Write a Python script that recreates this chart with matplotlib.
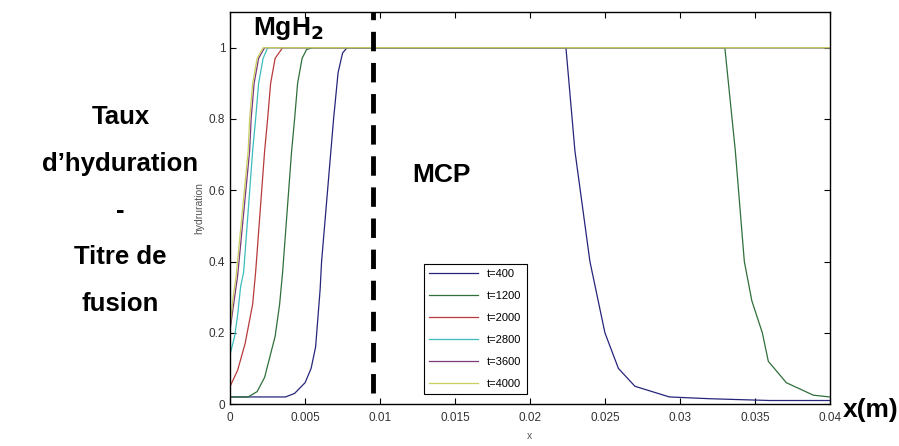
import matplotlib
matplotlib.use("Agg")
import matplotlib.pyplot as plt

plt.rcParams["font.family"] = ["Liberation Sans", "DejaVu Sans"]

# curves (x in m, hydration fraction)
x_400 = [0, 0.0037, 0.0043, 0.005, 0.0054, 0.0057, 0.006, 0.0061, 0.0065, 0.0069,
         0.0072, 0.0075, 0.0078, 0.0224, 0.023, 0.024, 0.025, 0.0259, 0.027, 0.0293,
         0.032, 0.036, 0.04]
y_400 = [0.02, 0.02, 0.03, 0.06, 0.1, 0.16, 0.32, 0.4, 0.6, 0.8,
         0.93, 0.985, 1.0, 1.0, 0.71, 0.4, 0.2, 0.1, 0.05, 0.02,
         0.015, 0.01, 0.01]

x_1200 = [0, 0.0012, 0.0018, 0.0023, 0.003, 0.0033, 0.0035, 0.0041, 0.0043, 0.0045,
          0.0048, 0.0051, 0.0055, 0.033, 0.0337, 0.0343, 0.0348, 0.0355, 0.0359,
          0.0371, 0.0389, 0.04]
y_1200 = [0.02, 0.02, 0.035, 0.075, 0.19, 0.28, 0.37, 0.71, 0.8, 0.9,
          0.97, 0.995, 1.0, 1.0, 0.71, 0.4, 0.29, 0.2, 0.12,
          0.06, 0.025, 0.02]

x_2000 = [0, 0.0005, 0.001, 0.0015, 0.0017, 0.0023, 0.0025, 0.0027, 0.003, 0.0035, 0.04]
y_2000 = [0.05, 0.095, 0.17, 0.28, 0.37, 0.71, 0.8, 0.9, 0.97, 1.0, 1.0]

x_2800 = [0, 0.0003, 0.0005, 0.0007, 0.0009, 0.0015, 0.0017, 0.0019, 0.0022, 0.0025, 0.04]
y_2800 = [0.14, 0.19, 0.25, 0.33, 0.37, 0.71, 0.8, 0.9, 0.97, 1.0, 1.0]

x_3600 = [0, 0.0003, 0.0005, 0.0013, 0.0014, 0.0016, 0.0019, 0.0023, 0.04]
y_3600 = [0.21, 0.3, 0.36, 0.71, 0.8, 0.9, 0.97, 1.0, 1.0]

x_4000 = [0, 0.0002, 0.0004, 0.0012, 0.0013, 0.0015, 0.0018, 0.0022, 0.04]
y_4000 = [0.22, 0.3, 0.36, 0.71, 0.8, 0.9, 0.97, 1.0, 1.0]

labels = ["t=400", "t=1200", "t=2000", "t=2800", "t=3600", "t=4000"]
colors = ["#25257a", "#2f6f3a", "#b83a3a", "#3cbcbc", "#7a3a7a", "#c8d060"]

interface_x = 0.0095

x_ticks = [0, 0.005, 0.01, 0.015, 0.02, 0.025, 0.03, 0.035, 0.04]
x_ticklabels = ["0", "0.005", "0.01", "0.015", "0.02", "0.025", "0.03", "0.035", "0.04"]
y_ticks = [0, 0.2, 0.4, 0.6, 0.8, 1.0]
y_ticklabels = ["0", "0.2", "0.4", "0.6", "0.8", "1"]

side_text = ["Taux", "d\u2019hyduration", "-", "Titre de", "fusion"]

fig = plt.figure(figsize=(8.99, 4.46), dpi=100)
ax = fig.add_axes([0.256, 0.094, 0.667, 0.879])

series = [(x_400, y_400), (x_1200, y_1200), (x_2000, y_2000),
          (x_2800, y_2800), (x_3600, y_3600), (x_4000, y_4000)]
for (xs, ys), lab, c in zip(series, labels, colors):
    ax.plot(xs, ys, color=c, lw=0.9, label=lab)

ax.plot([interface_x, interface_x], [0.03, 1.1], color="black", lw=3.5,
        linestyle=(0, (4, 2.4)), clip_on=False)

ax.set_xlim(0, 0.04)
ax.set_ylim(0, 1.1)
ax.set_xticks(x_ticks)
ax.set_xticklabels(x_ticklabels)
ax.set_yticks(y_ticks)
ax.set_yticklabels(y_ticklabels)
ax.tick_params(direction="in", top=True, right=True, labelsize=8.5,
               labelcolor="#333333", length=4, width=0.8)
ax.tick_params(axis="x", pad=6)
for s in ax.spines.values():
    s.set_linewidth(1.0)
ax.set_xlabel("x", fontsize=7.5, color="#555555", labelpad=5)
ax.set_ylabel("hydruration", fontsize=7.5, color="#555555", labelpad=3)

leg = ax.legend(loc="upper left", bbox_to_anchor=(0.466, 0.42),
                bbox_transform=fig.transFigure, fontsize=8, frameon=True,
                fancybox=False, edgecolor="black", framealpha=1,
                handlelength=4.4, labelspacing=1.07, borderpad=0.45)
leg.get_frame().set_linewidth(0.8)

fig.text(0.2814, 0.9215, "MgH$_\\mathbf{2}$", fontsize=19, fontweight="bold",
         ha="left", va="baseline")
fig.text(0.491, 0.607, "MCP", fontsize=19, fontweight="bold",
         ha="center", va="center")
fig.text(0.968, 0.08, "x(m)", fontsize=19, fontweight="bold",
         ha="center", va="center")

for i, t in enumerate(side_text):
    fig.text(0.134, 0.738 - i * 0.105, t, fontsize=18.5, fontweight="bold",
             ha="center", va="center")

fig.savefig("out.png", dpi=100)
